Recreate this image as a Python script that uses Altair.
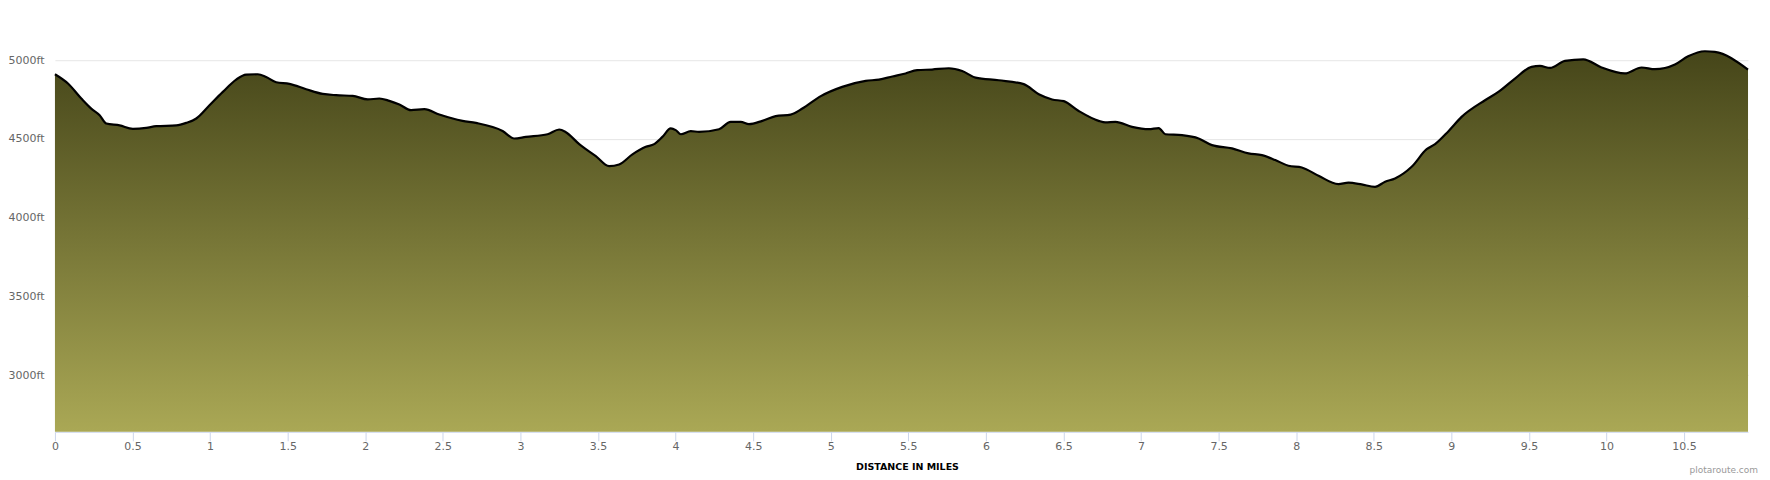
import altair as alt
import pandas as pd

miles = [0, 0.084, 0.17, 0.234, 0.288, 0.331, 0.417, 0.502, 0.588, 0.653, 0.782, 0.846, 0.911, 0.996,
         1.082, 1.168, 1.232, 1.307, 1.361, 1.426, 1.511, 1.619, 1.726, 1.812, 1.919, 2.016, 2.091, 2.155,
         2.22, 2.295, 2.381, 2.477, 2.627, 2.713, 2.885, 2.96, 3.035, 3.175, 3.25, 3.293, 3.379, 3.486,
         3.572, 3.636, 3.722, 3.808, 3.862, 3.915, 3.969, 4.001, 4.034, 4.098, 4.151, 4.28, 4.355, 4.42,
         4.473, 4.559, 4.645, 4.742, 4.817, 4.936, 5.074, 5.225, 5.311, 5.397, 5.482, 5.557, 5.653, 5.761,
         5.847, 5.933, 6.083, 6.244, 6.341, 6.427, 6.502, 6.598, 6.727, 6.77, 6.835, 6.942, 7.05, 7.114,
         7.157, 7.264, 7.371, 7.457, 7.586, 7.693, 7.779, 7.865, 7.95, 8.036, 8.144, 8.272, 8.337, 8.422,
         8.508, 8.573, 8.637, 8.744, 8.841, 8.895, 8.98, 9.066, 9.217, 9.303, 9.41, 9.517, 9.571, 9.636,
         9.732, 9.85, 9.968, 10.118, 10.226, 10.312, 10.441, 10.526, 10.634, 10.698, 10.912]

elevation_ft = [4911, 4852, 4757, 4693, 4651, 4598, 4586, 4564, 4570, 4581, 4586, 4602, 4630, 4714,
                4799, 4877, 4909, 4911, 4894, 4860, 4850, 4816, 4786, 4778, 4774, 4751, 4757, 4742,
                4719, 4683, 4689, 4655, 4615, 4602, 4551, 4503, 4513, 4530, 4560, 4543, 4467, 4391,
                4327, 4338, 4402, 4450, 4467, 4513, 4567, 4556, 4530, 4550, 4545, 4562, 4609, 4609,
                4594, 4615, 4645, 4655, 4693, 4772, 4831, 4869, 4877, 4897, 4916, 4937, 4941, 4949,
                4932, 4890, 4873, 4848, 4784, 4751, 4740, 4678, 4615, 4605, 4609, 4577, 4562, 4569,
                4530, 4524, 4503, 4461, 4440, 4408, 4397, 4366, 4330, 4319, 4266, 4213, 4222, 4211,
                4196, 4228, 4249, 4323, 4435, 4467, 4548, 4640, 4746, 4799, 4884, 4958, 4964, 4951,
                4996, 5006, 4954, 4916, 4954, 4943, 4973, 5025, 5057, 5053, 4941]

x_ticks = [i * 0.5 for i in range(22)]
y_ticks = [3000, 3500, 4000, 4500, 5000]
y_min, y_max = 2640, 5254
x_title = "DISTANCE IN MILES"
credit = ["plotaroute.com"]

df = pd.DataFrame({"miles": miles, "elev": elevation_ft})

FONT = "DejaVu Sans"

gradient = alt.Gradient(
    gradient="linear",
    stops=[alt.GradientStop(color="#454519", offset=0),
           alt.GradientStop(color="#aaa855", offset=1)],
    x1=1, x2=1, y1=0, y2=1,
)

area = alt.Chart(df).mark_area(
    color=gradient,
    opacity=1,
    interpolate="monotone",
    line={"color": "#000000", "strokeWidth": 2.2},
).encode(
    x=alt.X("miles:Q",
            scale=alt.Scale(domain=[0, 10.912], nice=False, zero=False),
            axis=alt.Axis(values=x_ticks, format="~g", grid=False,
                          tickColor="#ccd6eb", domainColor="#ccd6eb", tickSize=9,
                          labelColor="#666666", labelFont=FONT, labelFontSize=11,
                          labelPadding=0, labelFlush=False, labelOverlap=False,
                          title=x_title, titleFont=FONT, titleFontSize=9.5,
                          titleFontWeight="bold", titleColor="#000000", titlePadding=10,
                          titleX=853)),
    y=alt.Y("elev:Q",
            scale=alt.Scale(domain=[y_min, y_max], nice=False, zero=False),
            axis=alt.Axis(values=y_ticks, labelExpr="datum.value + 'ft'",
                          grid=True, gridColor="#e6e6e6", gridWidth=1,
                          domain=False, ticks=False, labelPadding=11,
                          labelColor="#666666", labelFont=FONT, labelFontSize=11,
                          title=None)),
    y2=alt.datum(y_min),
)

credit_text = alt.Chart(pd.DataFrame({"t": credit})).mark_text(
    align="right", baseline="middle", font=FONT, fontSize=9, color="#999999"
).encode(
    text="t:N",
    x=alt.value(1705),
    y=alt.value(450),
)

chart = alt.layer(area, credit_text).properties(
    width=1695,
    height=412,
    autosize=alt.AutoSizeParams(type="none"),
    padding={"left": 47, "top": 12, "right": 14, "bottom": 44},
).configure_view(stroke=None)

chart.save("out.html", embed_options={"renderer": "svg", "actions": False})
